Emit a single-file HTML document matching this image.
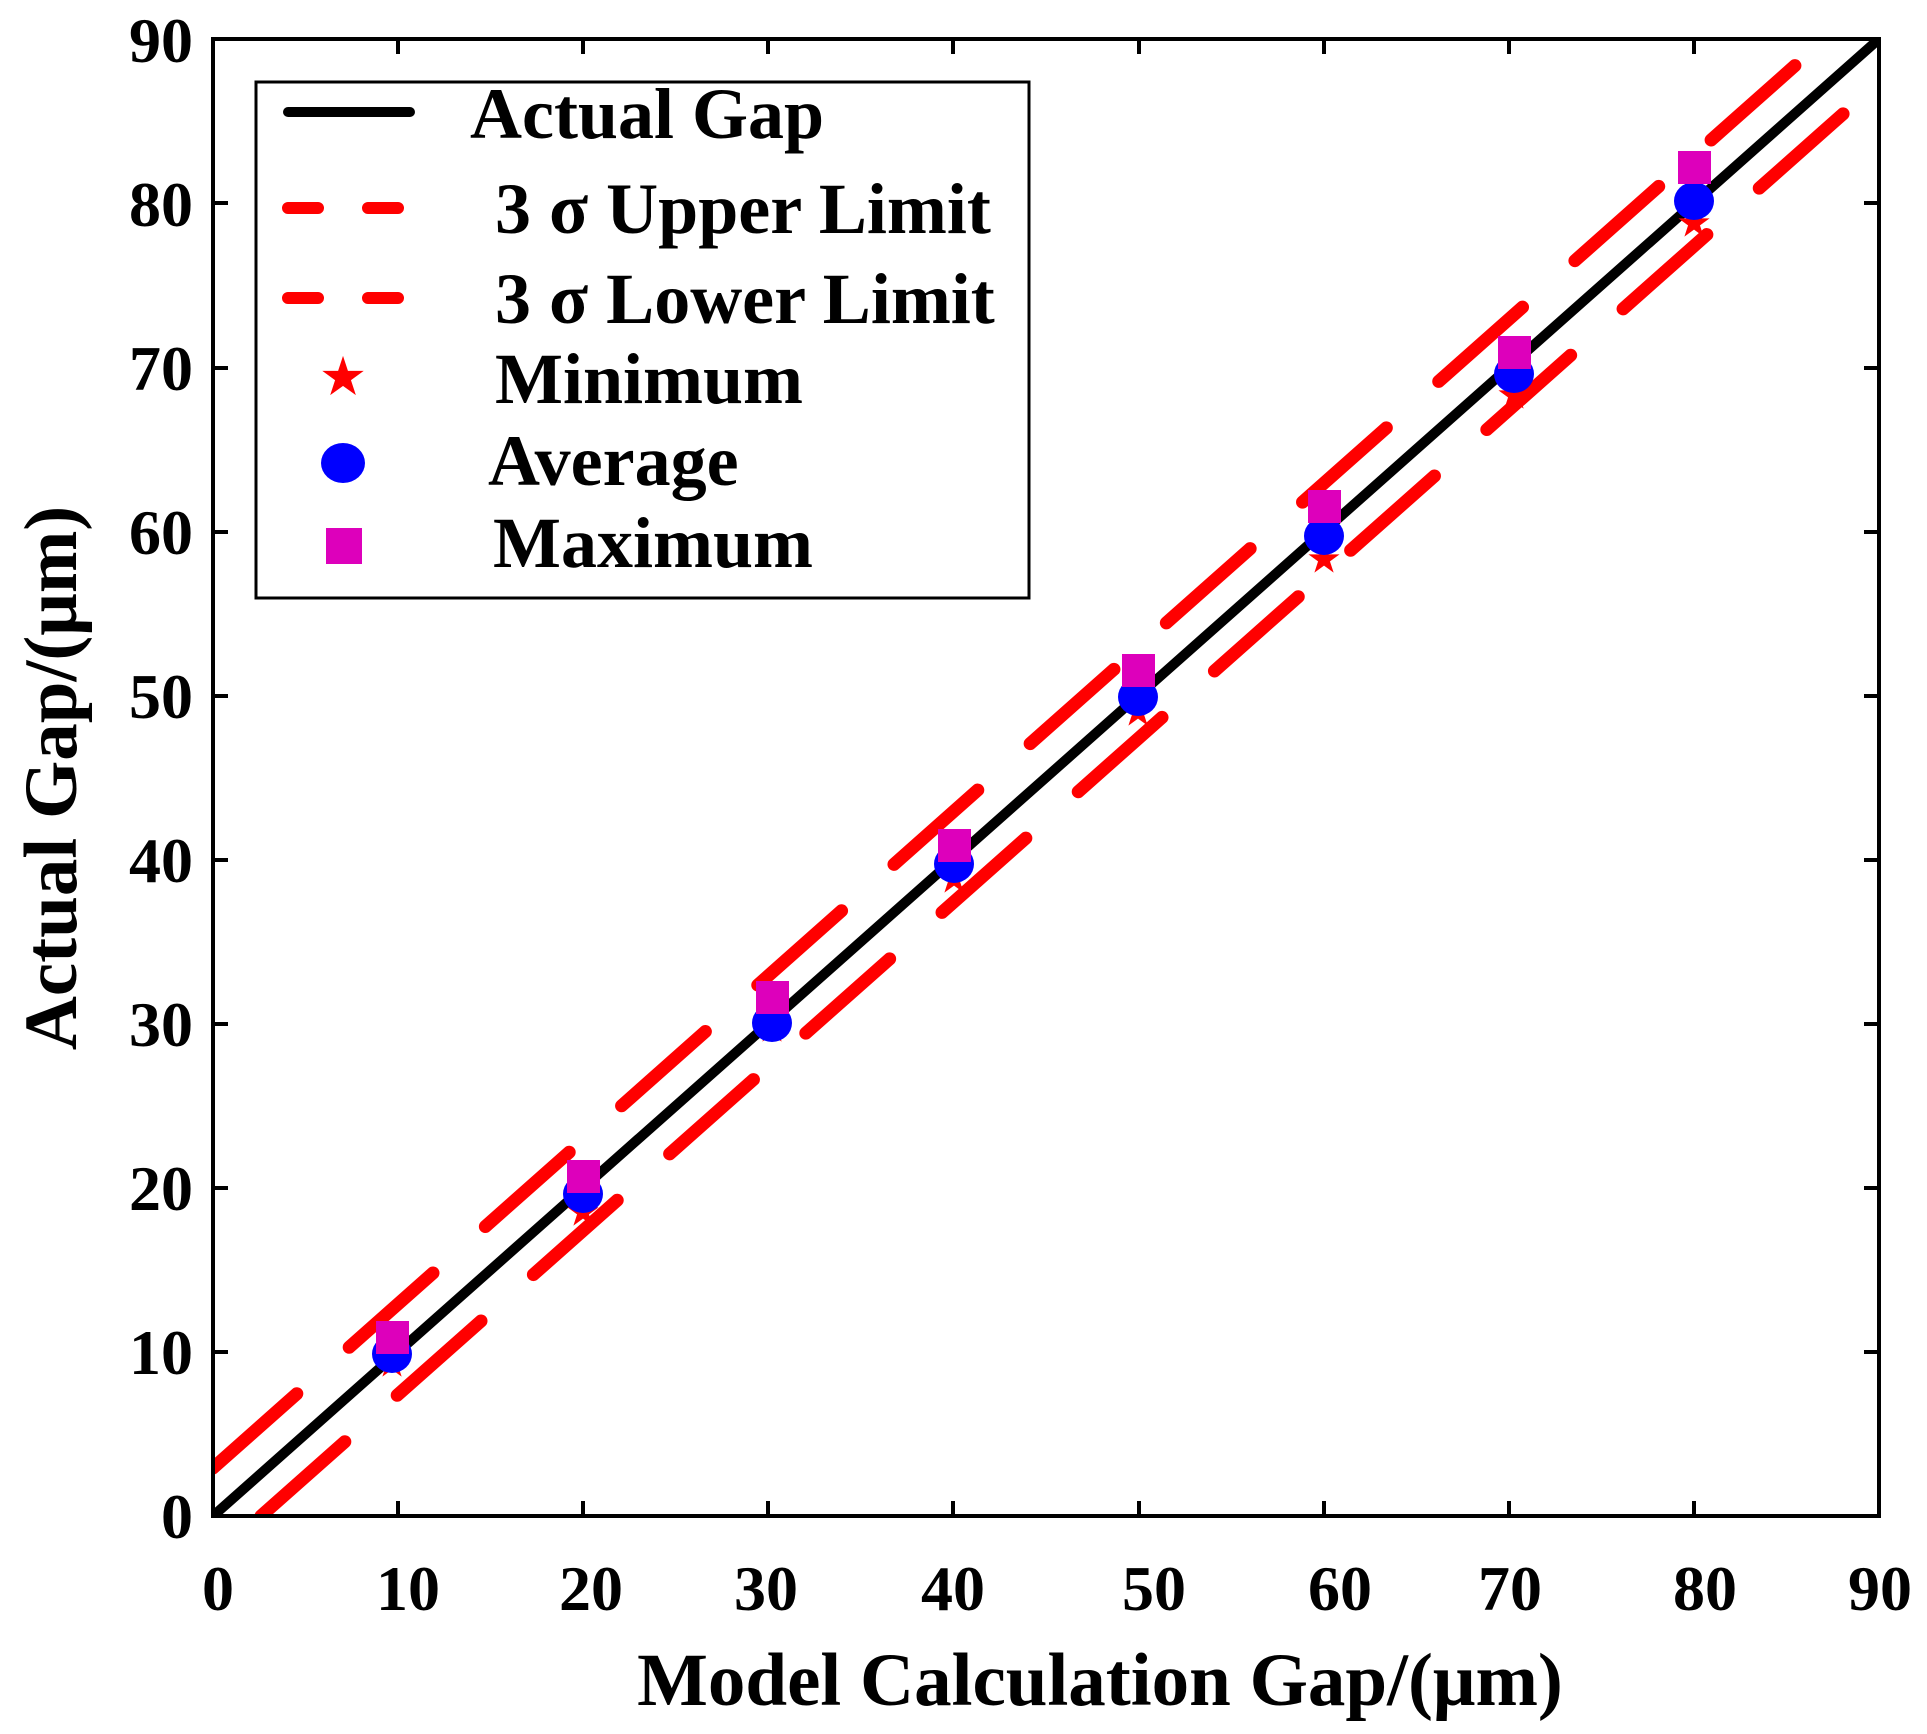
<!DOCTYPE html>
<html><head><style>body{margin:0;background:#fff}svg{display:block}</style></head><body>
<svg width="1927" height="1734" xmlns="http://www.w3.org/2000/svg" font-family="Liberation Serif, serif" font-weight="bold">
<defs><clipPath id="c"><rect x="213" y="39" width="1666" height="1477"/></clipPath></defs>
<g clip-path="url(#c)">
<line x1="213" y1="1468" x2="1825" y2="39" stroke="#f00" stroke-width="13" stroke-linecap="round" stroke-dasharray="112 70"/>
<line x1="261" y1="1516" x2="1879" y2="82" stroke="#f00" stroke-width="13" stroke-linecap="round" stroke-dasharray="112 70"/>
<line x1="213" y1="1516" x2="1879" y2="39" stroke="#000" stroke-width="10" stroke-linecap="round"/>
</g>
<g fill="#f00">
<text x="392" y="1375" font-size="36" text-anchor="middle">★</text>
<text x="583" y="1224" font-size="36" text-anchor="middle">★</text>
<text x="772" y="1040" font-size="36" text-anchor="middle">★</text>
<text x="954" y="891" font-size="36" text-anchor="middle">★</text>
<text x="1138" y="724" font-size="36" text-anchor="middle">★</text>
<text x="1324" y="571" font-size="36" text-anchor="middle">★</text>
<text x="1514" y="407" font-size="36" text-anchor="middle">★</text>
<text x="1694" y="235" font-size="36" text-anchor="middle">★</text>
</g>
<g fill="#00f">
<ellipse cx="392" cy="1354" rx="20" ry="19"/>
<ellipse cx="583" cy="1194" rx="20" ry="19"/>
<ellipse cx="772" cy="1023" rx="20" ry="19"/>
<ellipse cx="954" cy="864" rx="20" ry="19"/>
<ellipse cx="1138" cy="697" rx="20" ry="19"/>
<ellipse cx="1324" cy="536" rx="20" ry="19"/>
<ellipse cx="1514" cy="374" rx="20" ry="19"/>
<ellipse cx="1694" cy="201" rx="20" ry="19"/>
</g>
<g fill="#d0b">
<rect x="376" y="1321" width="33" height="33"/>
<rect x="567" y="1160" width="33" height="33"/>
<rect x="756" y="981" width="33" height="33"/>
<rect x="938" y="829" width="33" height="33"/>
<rect x="1122" y="654" width="33" height="33"/>
<rect x="1308" y="490" width="33" height="33"/>
<rect x="1498" y="336" width="33" height="33"/>
<rect x="1678" y="151" width="33" height="33"/>
</g>
<rect x="213" y="39" width="1666" height="1477" fill="none" stroke="#000" stroke-width="4"/>
<g stroke="#000" stroke-width="4">
<path d="M398 1516v-15M583 1516v-15M768 1516v-15M953 1516v-15M1139 1516v-15M1324 1516v-15M1509 1516v-15M1694 1516v-15"/>
<path d="M398 39v15M583 39v15M768 39v15M953 39v15M1139 39v15M1324 39v15M1509 39v15M1694 39v15"/>
<path d="M213 1352h15M213 1188h15M213 1024h15M213 860h15M213 696h15M213 532h15M213 368h15M213 203h15"/>
<path d="M1879 1352h-15M1879 1188h-15M1879 1024h-15M1879 860h-15M1879 696h-15M1879 532h-15M1879 368h-15M1879 203h-15"/>
</g>
<g font-size="64" text-anchor="end">
<text x="193" y="1538">0</text><text x="193" y="1374">10</text><text x="193" y="1210">20</text><text x="193" y="1046">30</text><text x="193" y="882">40</text><text x="193" y="718">50</text><text x="193" y="554">60</text><text x="193" y="390">70</text><text x="193" y="226">80</text><text x="193" y="62">90</text>
</g>
<g font-size="64" text-anchor="middle">
<text x="218" y="1610">0</text><text x="408" y="1610">10</text><text x="591" y="1610">20</text><text x="766" y="1610">30</text><text x="953" y="1610">40</text><text x="1154" y="1610">50</text><text x="1340" y="1610">60</text><text x="1510" y="1610">70</text><text x="1705" y="1610">80</text><text x="1880" y="1610">90</text>
</g>
<text x="1100" y="1705" font-size="75" text-anchor="middle">Model Calculation Gap/(μm)</text>
<text transform="translate(76,778) rotate(-90)" font-size="75" text-anchor="middle">Actual Gap/(μm)</text>
<rect x="256" y="82" width="773" height="516" fill="#fff" stroke="#000" stroke-width="3"/>
<line x1="288" y1="112" x2="410" y2="112" stroke="#000" stroke-width="10" stroke-linecap="round"/>
<line x1="288" y1="208" x2="410" y2="208" stroke="#f00" stroke-width="12" stroke-linecap="round" stroke-dasharray="30 50"/>
<line x1="288" y1="298" x2="410" y2="298" stroke="#f00" stroke-width="12" stroke-linecap="round" stroke-dasharray="30 50"/>
<text x="343" y="393" font-size="48" fill="#f00" text-anchor="middle">★</text>
<ellipse cx="343" cy="463" rx="22" ry="20" fill="#00f"/>
<rect x="326" y="528" width="36" height="36" fill="#d0b"/>
<g font-size="72">
<text x="470" y="138">Actual Gap</text>
<text x="495" y="233">3 σ Upper Limit</text>
<text x="495" y="323">3 σ Lower Limit</text>
<text x="495" y="403">Minimum</text>
<text x="488" y="485">Average</text>
<text x="493" y="567">Maximum</text>
</g>
</svg>
</body></html>
